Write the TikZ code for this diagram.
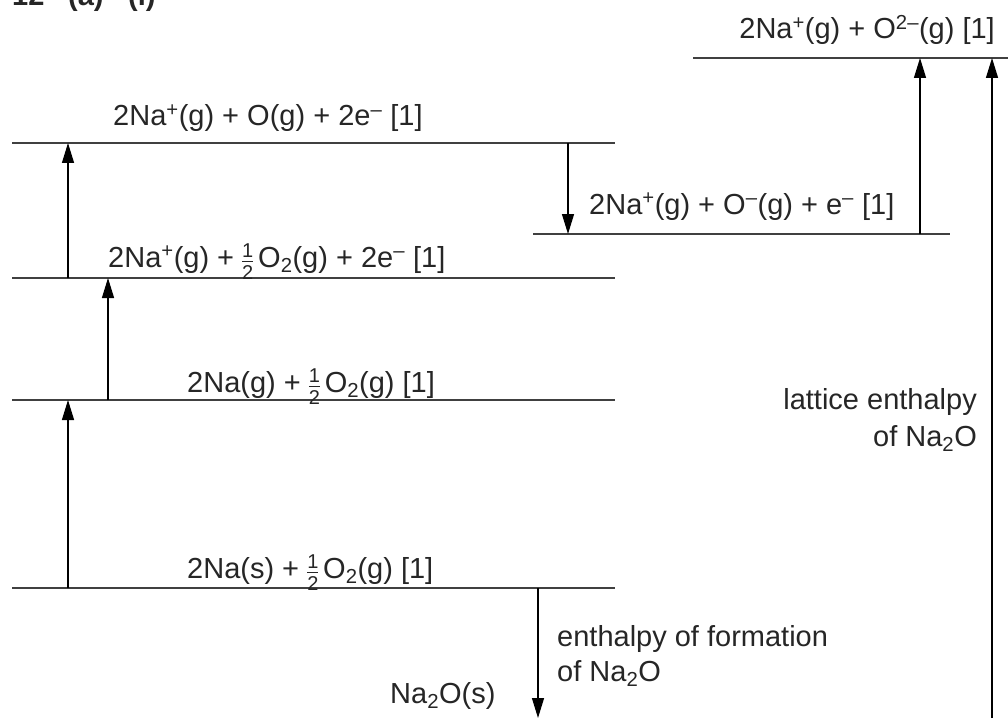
\documentclass[tikz,border=0pt]{standalone}
\usepackage{fontspec}
\setmainfont{Liberation Sans}
\usetikzlibrary{arrows.meta}
\newcommand\hlf{\raisebox{-12pt}{\vbox{\fontsize{20}{20}\selectfont\offinterlineskip
  \halign{\hfil##\hfil\cr 1\cr\noalign{\kern3pt\hrule height 1.2pt\kern3pt}2\cr}}}}
\newcommand\supm{\textsuperscript{–}}
\newcommand\supp{\textsuperscript{+}}
\begin{document}
\begin{tikzpicture}[x=1pt,y=-1pt,
  level/.style={draw=black!75, line width=1.8pt},
  arr/.style={draw=black, line width=1.3pt, -{Triangle[length=20pt,width=12pt]}},
  lbl/.style={inner sep=0pt, font=\fontsize{29}{35}\selectfont, text=black!85},
  hdr/.style={inner sep=0pt, font=\fontsize{29}{35}\selectfont\bfseries, text=black!85}]
\useasboundingbox (0,0) rectangle (1008,722);
\clip (0,0) rectangle (1008,722);
% header (cut off at the top, as in the reference)
\node[hdr, anchor=base west] (h1) at (12,6) {12};
\node[hdr, anchor=base west] (h2) at (68,6) {(a)};
\node[hdr, anchor=base west] (h3) at (128,6) {(i)};
% levels
\coordinate (A1) at (693,58);  \coordinate (A2) at (1008,58);
\coordinate (B1) at (12,143);  \coordinate (B2) at (615,143);
\coordinate (C1) at (533,234); \coordinate (C2) at (950,234);
\coordinate (D1) at (12,278);  \coordinate (D2) at (615,278);
\coordinate (E1) at (12,400);  \coordinate (E2) at (615,400);
\coordinate (F1) at (12,588);  \coordinate (F2) at (615,588);
\draw[level] (A1) -- (A2);
\draw[level] (B1) -- (B2);
\draw[level] (C1) -- (C2);
\draw[level] (D1) -- (D2);
\draw[level] (E1) -- (E2);
\draw[level] (F1) -- (F2);
% arrow end points
\coordinate (a1s) at (68,588);  \coordinate (a1e) at (68,400);
\coordinate (a2s) at (108,400); \coordinate (a2e) at (108,278);
\coordinate (a3s) at (68,278);  \coordinate (a3e) at (68,143);
\coordinate (a4s) at (568,143); \coordinate (a4e) at (568,234);
\coordinate (a5s) at (920,234); \coordinate (a5e) at (920,58);
\coordinate (a6s) at (992,718); \coordinate (a6e) at (992,58);
\coordinate (a7s) at (538,588); \coordinate (a7e) at (538,718);
\draw[arr] (a1s) -- (a1e);
\draw[arr] (a2s) -- (a2e);
\draw[arr] (a3s) -- (a3e);
\draw[arr] (a4s) -- (a4e);
\draw[arr] (a5s) -- (a5e);
\draw[arr] (a6s) -- (a6e);
\draw[arr] (a7s) -- (a7e);
% labels
\node[lbl, anchor=base east] (tA) at (995,39) {2Na\supp(g) + O\textsuperscript{2–}(g) [1]};
\node[lbl, anchor=base west] (tB) at (113,126) {2Na\supp(g) + O(g) + 2e\supm{} [1]};
\node[lbl, anchor=base west] (tC) at (589,214) {2Na\supp(g) + O\supm(g) + e\supm{} [1]};
\node[lbl, anchor=base west] (tD) at (108,267) {2Na\supp(g) + \hlf\,O\textsubscript{2}(g) + 2e\supm{} [1]};
\node[lbl, anchor=base west] (tE) at (187,392) {2Na(g) + \hlf\,O\textsubscript{2}(g) [1]};
\node[lbl, anchor=base west] (tF) at (187,578) {2Na(s) + \hlf\,O\textsubscript{2}(g) [1]};
\node[lbl, anchor=base west] (tG) at (390,703) {Na\textsubscript{2}O(s)};
\node[lbl, anchor=base west] (tH1) at (557,646) {enthalpy of formation};
\node[lbl, anchor=base west] (tH2) at (557,681) {of Na\textsubscript{2}O};
\node[lbl, anchor=base east] (tL1) at (977,409) {lattice enthalpy};
\node[lbl, anchor=base east] (tL2) at (977,446) {of Na\textsubscript{2}O};
\end{tikzpicture}
\end{document}
